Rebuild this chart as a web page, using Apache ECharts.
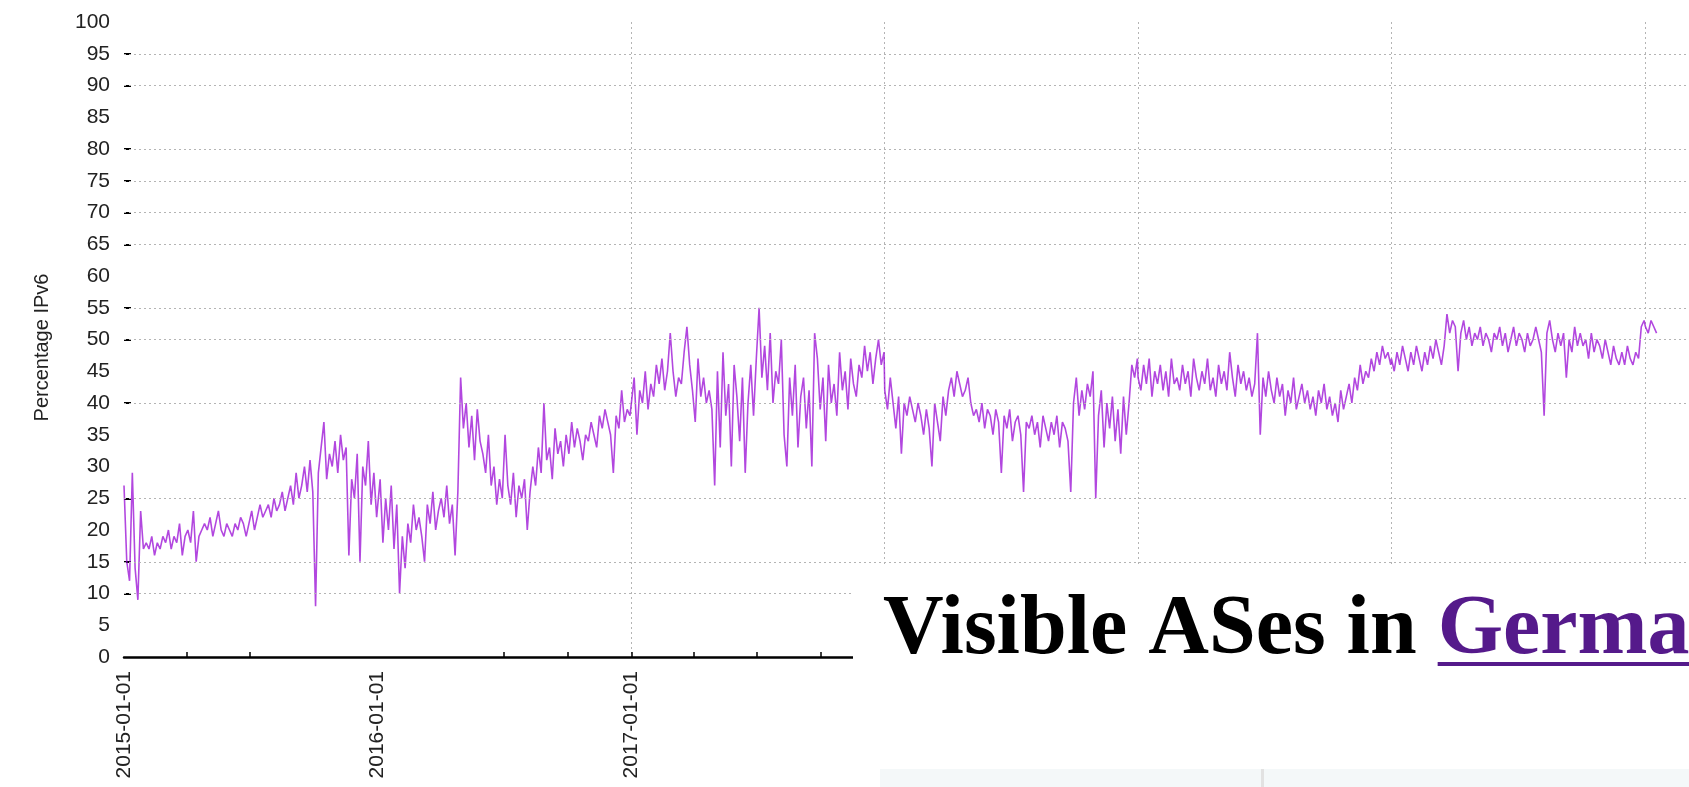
<!DOCTYPE html>
<html>
<head>
<meta charset="utf-8">
<title>Percentage IPv6</title>
<script src="https://cdn.jsdelivr.net/npm/echarts@6/dist/echarts.min.js"></script>
<style>
  html, body { margin: 0; padding: 0; background: #ffffff; overflow: hidden; }
  #chart { width: 1689px; height: 787px; }
</style>
</head>
<body>
<div id="chart"></div>
<script>
// Share of IPv6, sampled every 4 days from 1 January of each year.
const stepDays = 4;
const y2015 = [27, 15, 12, 29, 14, 9, 23, 17,
  18, 17, 19, 16, 18, 17, 19,
  18, 20, 17, 19, 18, 21, 16, 19,
  20, 18, 23, 15, 19, 20, 21,
  20, 22, 19, 21, 23, 20, 19, 21,
  20, 19, 21, 20, 22, 21, 19,
  21, 23, 20, 22, 24, 22, 23, 24,
  22, 25, 23, 24, 26, 23, 25, 27,
  24, 29, 25, 27, 30, 26, 31,
  26, 8, 29, 33, 37, 28, 32, 30,
  34, 29, 35, 31, 33, 16, 28,
  25, 32, 15, 30, 27, 34, 24, 29, 22];
const y2016 = [22, 28, 18, 25, 20, 27, 17, 24,
  10, 19, 14, 21, 18, 24, 20,
  22, 19, 15, 24, 21, 26, 20, 23,
  25, 22, 27, 21, 24, 16, 26,
  44, 36, 40, 33, 38, 31, 39, 34,
  32, 29, 35, 27, 30, 24, 28,
  25, 35, 27, 24, 29, 22, 27, 25,
  28, 20, 26, 30, 27, 33, 29, 40,
  31, 33, 28, 36, 32, 34, 30,
  35, 32, 37, 33, 36, 34, 31, 35,
  34, 37, 35, 33, 38, 36, 39,
  37, 35, 29, 38, 36, 42, 37, 39, 38];
const y2017 = [38, 44, 35, 42, 40, 45, 39, 43,
  41, 46, 43, 47, 42, 45, 51,
  45, 41, 44, 43, 48, 52, 46, 42,
  37, 47, 41, 44, 40, 42, 39,
  27, 45, 33, 48, 38, 43, 30, 46,
  41, 34, 44, 29, 40, 46, 38,
  47, 55, 44, 49, 42, 51, 40, 45,
  43, 50, 35, 30, 44, 38, 46, 33,
  41, 44, 36, 42, 30, 51, 47,
  39, 44, 34, 46, 40, 43, 38, 48,
  42, 45, 39, 47, 43, 41, 46,
  44, 49, 45, 48, 43, 47, 50, 46, 48];
const y2018 = [42, 39, 44, 40, 36, 41, 32, 40,
  38, 41, 39, 37, 40, 38, 35,
  39, 36, 30, 40, 37, 34, 41, 38,
  42, 44, 41, 45, 43, 41, 42,
  44, 40, 38, 39, 37, 40, 36, 39,
  38, 35, 39, 37, 29, 38, 36,
  39, 34, 37, 38, 35, 26, 37, 36,
  38, 35, 37, 33, 38, 36, 34, 37,
  35, 38, 33, 37, 36, 34, 26,
  40, 44, 38, 42, 39, 43, 41, 45,
  25, 38, 42, 33, 40, 36, 41,
  34, 39, 32, 41, 35, 40, 46, 44, 47];
const y2019 = [44, 42, 46, 43, 47, 41, 45, 43,
  46, 42, 45, 41, 47, 43, 44,
  42, 46, 43, 45, 41, 47, 44, 42,
  45, 43, 47, 42, 44, 41, 46,
  43, 45, 42, 48, 44, 41, 46, 43,
  45, 42, 44, 41, 43, 51, 35,
  44, 41, 45, 42, 40, 44, 41, 43,
  38, 42, 40, 44, 39, 41, 43, 40,
  42, 39, 41, 38, 42, 40, 43,
  39, 41, 38, 40, 37, 42, 39, 41,
  43, 40, 44, 42, 46, 43, 45,
  44, 47, 45, 48, 46, 49, 47, 48, 46];
const y2020 = [47, 45, 48, 46, 49, 47, 45, 48,
  46, 49, 47, 45, 48, 46, 49,
  47, 50, 48, 46, 49, 54, 51, 53,
  52, 45, 51, 53, 50, 52, 49,
  51, 50, 52, 49, 51, 50, 48, 51,
  50, 52, 49, 51, 48, 50, 52,
  49, 51, 50, 48, 51, 49, 50, 52,
  50, 48, 38, 51, 53, 50, 48, 51,
  49, 51, 44, 50, 48, 52, 49,
  51, 49, 50, 47, 51, 48, 50, 49,
  47, 50, 48, 46, 49, 47, 46,
  48, 46, 49, 47, 46, 48, 47, 52, 53];
const y2021 = [52, 51, 53, 52, 51];

const years = [2015, 2016, 2017, 2018, 2019, 2020, 2021];
const yearValues = [y2015, y2016, y2017, y2018, y2019, y2020, y2021];

// Axis range, tick and grid positions
const xStart = '2015-01-01';
const xEnd = '2021-04-01';
const xLabelDates = ['2015-01-01', '2016-01-01', '2017-01-01', '2018-01-01', '2019-01-01', '2020-01-01', '2021-01-01'];
const xTickDates = ['2015-04-01', '2015-07-01', '2016-07-01', '2016-10-01', '2017-01-01', '2017-04-01', '2017-07-01', '2017-10-01'];
const xGridDates = ['2017-01-01', '2018-01-01', '2019-01-01', '2020-01-01', '2021-01-01'];
const yGridLevels = [10, 15, 25, 40, 50, 55, 65, 70, 75, 80, 90, 95];

const DAY = 86400000;
const ts = s => Date.parse(s + 'T00:00:00Z');
const fmtDate = v => new Date(v).toISOString().slice(0, 10);

const points = [];
years.forEach((yr, k) => {
  const base = Date.UTC(yr, 0, 1);
  yearValues[k].forEach((v, i) => points.push([base + i * stepDays * DAY, v]));
});

const sans = '"Liberation Sans", Arial, sans-serif';
const serifBold = 'bold 84px "Liberation Serif", "Times New Roman", serif';
const gridDots = { color: '#b4b4b4', width: 1, type: [2, 3] };

// Heading text placed over the lower right of the plot
const headPlain = 'Visible ASes in ';
const headLink = 'Germany';
const measure = document.createElement('canvas').getContext('2d');
measure.font = serifBold;
const headPlainWidth = measure.measureText(headPlain).width;
const headX = 883;
const headMidY = 631;

const chart = echarts.init(document.getElementById('chart'), null, { renderer: 'canvas' });
chart.setOption({
  animation: false,
  backgroundColor: '#ffffff',
  grid: {
    left: 124, top: 22, height: 635,
    width: (ts(xEnd) - ts(xStart)) / DAY * 0.6941,
    outerBoundsMode: 'none',
    containLabel: false
  },
  xAxis: [
    {
      type: 'value', min: ts(xStart), max: ts(xEnd),
      axisLine: { show: true, onZero: false, lineStyle: { color: '#000', width: 2.5 } },
      axisTick: { show: true, inside: true, length: 5, customValues: xTickDates.map(ts),
                  lineStyle: { color: '#000', width: 1.5 } },
      axisLabel: { customValues: xLabelDates.map(ts), rotate: 90, margin: 14,
                   fontSize: 21, color: '#222', fontFamily: sans, formatter: fmtDate },
      splitLine: { show: false }
    },
    {
      type: 'value', min: ts(xStart), max: ts(xEnd), position: 'bottom',
      axisLine: { show: false },
      axisTick: { show: false, customValues: xGridDates.map(ts) },
      axisLabel: { show: false },
      splitLine: { show: true, lineStyle: gridDots }
    }
  ],
  yAxis: {
    type: 'value', min: 0, max: 100, interval: 5,
    name: 'Percentage IPv6', nameLocation: 'middle', nameGap: 72,
    nameTextStyle: { fontSize: 20, color: '#222', fontFamily: sans, padding: [0, 16, 0, 0] },
    axisLine: { show: false },
    axisTick: { show: true, inside: true, length: 7, customValues: yGridLevels,
                lineStyle: { color: '#000', width: 2 } },
    axisLabel: { margin: 14, fontSize: 21, color: '#222', fontFamily: sans },
    splitLine: { show: false }
  },
  series: [
    {
      // dotted horizontal grid at the levels listed in yGridLevels
      type: 'line',
      xAxisIndex: 0,
      yAxisIndex: 0,
      data: [],
      z: 1,
      markLine: {
        silent: true,
        symbol: 'none',
        label: { show: false },
        lineStyle: gridDots,
        emphasis: { disabled: true },
        data: yGridLevels.map(v => ({ yAxis: v }))
      }
    },
    {
      type: 'line',
      xAxisIndex: 0,
      yAxisIndex: 0,
      data: points,
      showSymbol: false,
      smooth: false,
      sampling: null,
      lineStyle: { color: '#9400d3', width: 1.6, opacity: 0.72 },
      z: 3
    }
  ],
  graphic: [
    { type: 'rect', z: 100, shape: { x: 853, y: 565, width: 836, height: 222 },
      style: { fill: '#ffffff' } },
    { type: 'text', z: 101, x: headX, y: headMidY,
      style: { text: headPlain, font: serifBold, fill: '#000000', verticalAlign: 'middle', align: 'left' } },
    { type: 'text', z: 101, x: headX + headPlainWidth, y: headMidY,
      style: { text: headLink, font: serifBold, fill: '#551a8b', verticalAlign: 'middle', align: 'left' } },
    { type: 'rect', z: 101, shape: { x: headX + headPlainWidth, y: 662, width: 400, height: 4 },
      style: { fill: '#551a8b' } },
    { type: 'rect', z: 101, shape: { x: 880, y: 769, width: 809, height: 18 },
      style: { fill: '#f4f8f9' } },
    { type: 'rect', z: 102, shape: { x: 1261, y: 769, width: 3, height: 18 },
      style: { fill: '#e2e2e2' } }
  ]
});
</script>
</body>
</html>
